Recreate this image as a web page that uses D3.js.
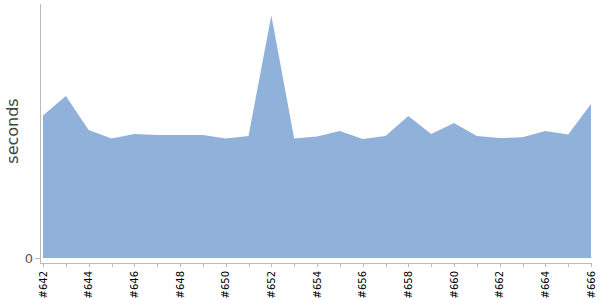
<!DOCTYPE html>
<html>
<head>
<meta charset="utf-8">
<script src="https://cdn.jsdelivr.net/npm/d3@7"></script>
<style>
	body { margin: 0; background: #fff; }
	svg text { font-family: "DejaVu Sans", sans-serif; }
</style>
</head>
<body>
<svg id="chart" width="600" height="300"></svg>
<script>
// build numbers and their run times (seconds)
var builds = [642, 643, 644, 645, 646, 647, 648, 649, 650, 651, 652, 653, 654,
	655, 656, 657, 658, 659, 660, 661, 662, 663, 664, 665, 666];
var seconds = [71.2, 81, 64, 59.7, 62, 61.5, 61.5, 61.5, 59.7, 61, 121.2, 59.7, 60.8,
	63.5, 59.5, 61, 71, 62, 67.5, 61, 60, 60.4, 63.5, 61.7, 77];
var yTicks = [0];

var svg = d3.select('#chart');
var plotLeft = 43, plotRight = 591, plotTop = 4, plotBottom = 258;

var x = d3.scaleLinear()
	.domain([builds[0], builds[builds.length - 1]])
	.range([plotLeft, plotRight]);
var y = d3.scaleLinear()
	.domain([0, 127])
	.range([plotBottom, plotTop]);

var area = d3.area()
	.x(function(d, i) { return x(builds[i]); })
	.y0(y(0))
	.y1(function(d) { return y(d); });

svg.append('path')
	.datum(seconds)
	.attr('d', area)
	.attr('fill', '#8fb1da');

// y axis
svg.append('line')
	.attr('x1', 40.5).attr('x2', 40.5)
	.attr('y1', plotTop).attr('y2', 263)
	.attr('stroke', '#bbb');
svg.selectAll('.ytick')
	.data(yTicks)
	.enter()
	.append('text')
	.attr('x', 33)
	.attr('y', function(d) { return y(d) + 5; })
	.attr('text-anchor', 'end')
	.attr('font-size', 13)
	.attr('fill', '#555')
	.text(function(d) { return d; });
svg.selectAll('.ytickline')
	.data(yTicks)
	.enter()
	.append('line')
	.attr('x1', 35).attr('x2', 40)
	.attr('y1', function(d) { return y(d) + 0.5; })
	.attr('y2', function(d) { return y(d) + 0.5; })
	.attr('stroke', '#bbb');

svg.append('text')
	.attr('transform', 'translate(18,' + ((plotTop + plotBottom) / 2) + ') rotate(-90)')
	.attr('text-anchor', 'middle')
	.attr('font-size', 16)
	.attr('fill', '#444')
	.text('seconds');

// x axis
svg.append('line')
	.attr('x1', 40).attr('x2', plotRight)
	.attr('y1', 263.5).attr('y2', 263.5)
	.attr('stroke', '#bbb');
svg.selectAll('.xtick')
	.data(builds)
	.enter()
	.append('line')
	.attr('x1', function(d) { return Math.round(x(d)) + 0.5; })
	.attr('x2', function(d) { return Math.round(x(d)) + 0.5; })
	.attr('y1', 263).attr('y2', 267)
	.attr('stroke', '#bbb');
svg.selectAll('.xlabel')
	.data(builds.filter(function(d) { return d % 2 == 0; }))
	.enter()
	.append('text')
	.attr('transform', function(d) {
		return 'translate(' + (x(d) + 3.5) + ',271) rotate(-90)';
	})
	.attr('text-anchor', 'end')
	.attr('font-size', 10)
	.attr('fill', '#000')
	.text(function(d) { return '#' + d; });
</script>
</body>
</html>
